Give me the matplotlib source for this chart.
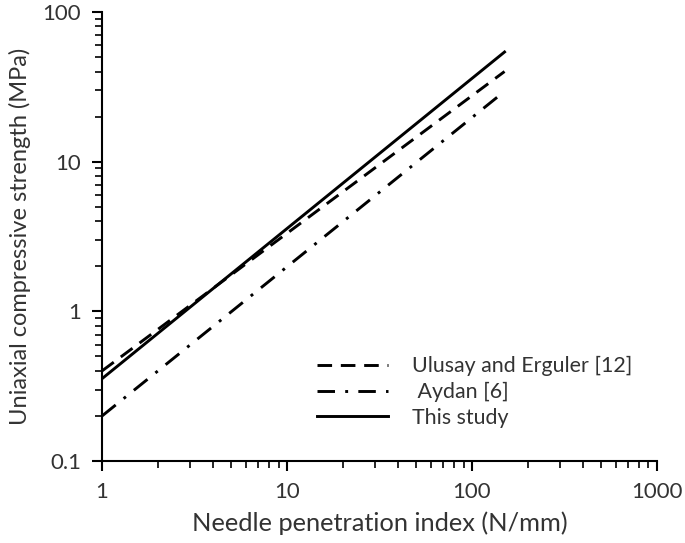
import matplotlib
matplotlib.use("Agg")
import matplotlib.pyplot as plt
from matplotlib.ticker import LogLocator, NullFormatter, FixedLocator, FixedFormatter

plt.rcParams['font.family'] = ['Lato', 'DejaVu Sans']

npi = [1, 150]
ulusay = [0.40, 40.0]
aydan = [0.20, 29.5]
this_study = [0.355, 54.0]

x_ticks = [1, 10, 100, 1000]
x_labels = ["1", "10", "100", "1000"]
y_ticks = [0.1, 1, 10, 100]
y_labels = ["0.1", "1", "10", "100"]

fig = plt.figure(figsize=(6.85, 5.43), dpi=100)
ax = fig.add_axes([0.149, 0.151, 0.810, 0.827])

ax.plot(npi, ulusay, color='black', lw=2.1, dashes=(5, 3), label='Ulusay and Erguler [12]')
ax.plot(npi, aydan, color='black', lw=2.1, dashes=(6, 3.5, 1, 3.5), label=' Aydan [6]')
ax.plot(npi, this_study, color='black', lw=2.1, label='This study')

ax.set_xscale('log')
ax.set_yscale('log')
ax.set_xlim(1, 1000)
ax.set_ylim(0.1, 100)

ax.xaxis.set_major_locator(FixedLocator(x_ticks))
ax.xaxis.set_major_formatter(FixedFormatter(x_labels))
ax.yaxis.set_major_locator(FixedLocator(y_ticks))
ax.yaxis.set_major_formatter(FixedFormatter(y_labels))
ax.xaxis.set_minor_locator(LogLocator(base=10, subs=range(2, 10)))
ax.yaxis.set_minor_locator(LogLocator(base=10, subs=range(2, 10)))
ax.xaxis.set_minor_formatter(NullFormatter())
ax.yaxis.set_minor_formatter(NullFormatter())

for s in ['top', 'right']:
    ax.spines[s].set_visible(False)
for s in ['left', 'bottom']:
    ax.spines[s].set_linewidth(1.5)

ax.tick_params(which='major', direction='out', length=7, width=1.5, labelsize=16, pad=8, colors='black')
ax.tick_params(which='minor', direction='out', length=5, width=1.2)
for lbl in ax.get_xticklabels() + ax.get_yticklabels():
    lbl.set_color('#333333')

ax.set_xlabel('Needle penetration index (N/mm)', fontsize=18.3, color='#333333', labelpad=7)
ax.set_ylabel('Uniaxial compressive strength (MPa)', fontsize=17, color='#333333', labelpad=8)

leg = ax.legend(loc='center left', bbox_to_anchor=(0.463, 0.278), bbox_transform=fig.transFigure,
                frameon=False, borderpad=0, borderaxespad=0,
                fontsize=15.4, handlelength=3.3, handletextpad=1.15, labelspacing=0.27)
for t in leg.get_texts():
    t.set_color('#333333')

fig.savefig('out.png', dpi=100)
